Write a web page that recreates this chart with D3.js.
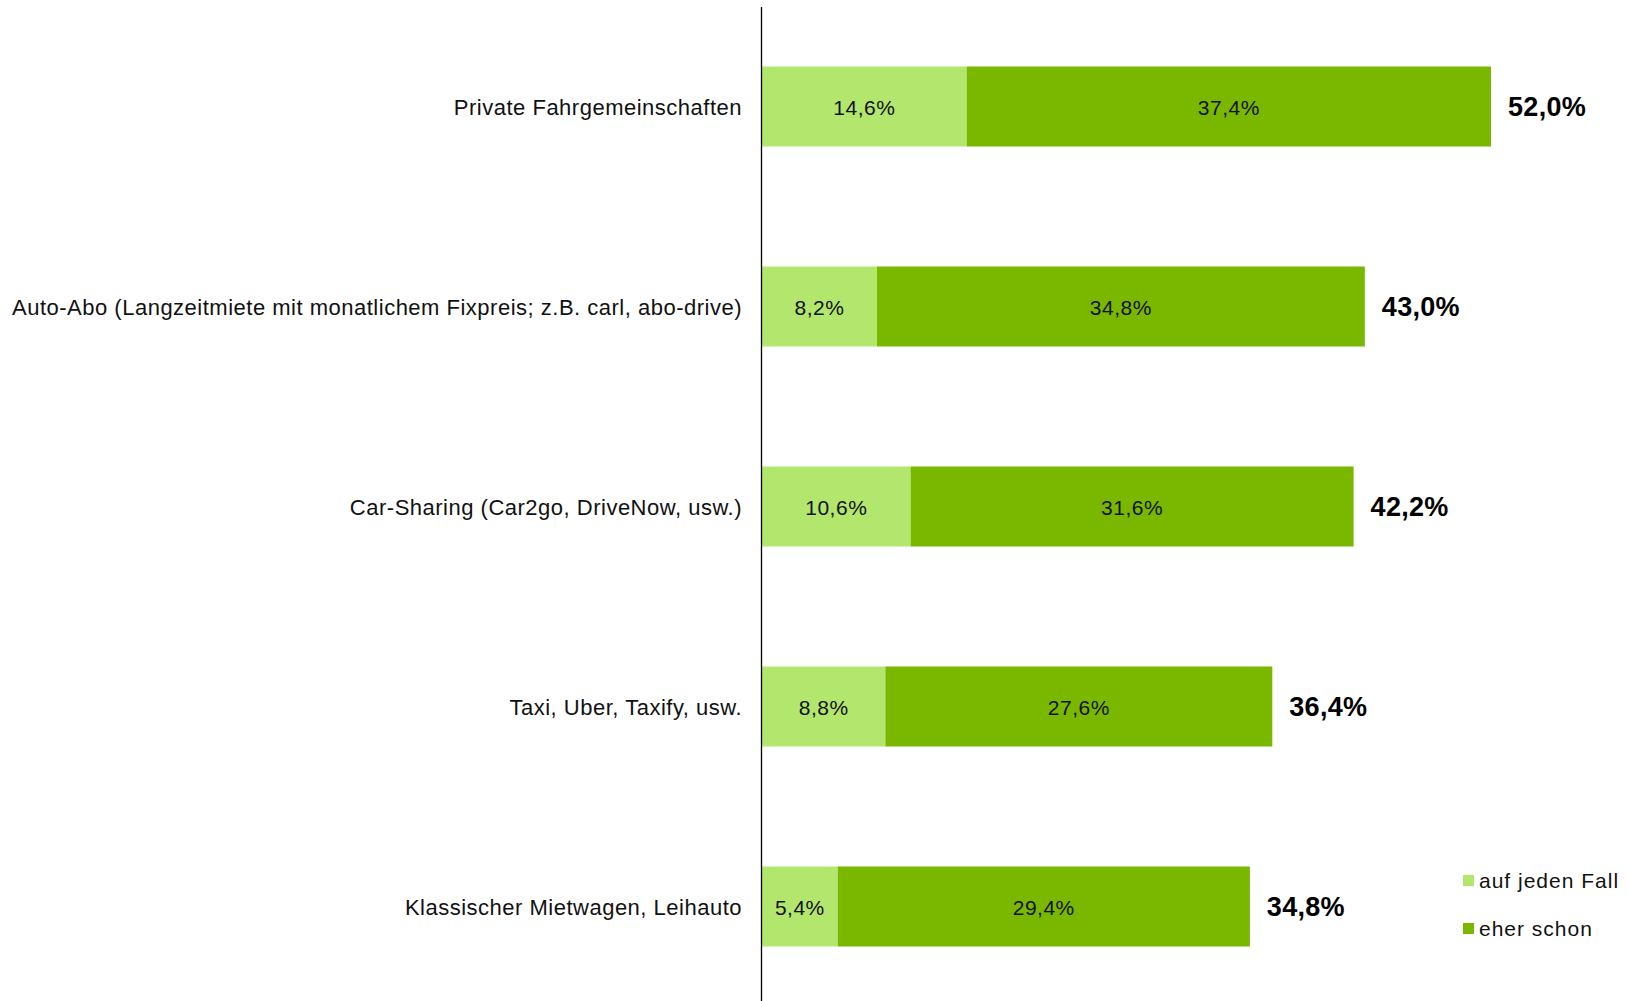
<!DOCTYPE html>
<html>
<head>
<meta charset="utf-8">
<script src="https://cdn.jsdelivr.net/npm/d3@7"></script>
<style>
  html, body { margin: 0; padding: 0; background: #fff; }
  svg { display: block; font-family: "Liberation Sans", Arial, sans-serif; }
</style>
</head>
<body>
<div id="graph"></div>
<script>
// chart data
const categories = [
    "Private Fahrgemeinschaften",
    "Auto-Abo (Langzeitmiete mit monatlichem Fixpreis; z.B. carl, abo-drive)",
    "Car-Sharing (Car2go, DriveNow, usw.)",
    "Taxi, Uber, Taxify, usw.",
    "Klassischer Mietwagen, Leihauto"
];
const aufJedenFall = [14.6, 8.2, 10.6, 8.8, 5.4];
const eherSchon = [37.4, 34.8, 31.6, 27.6, 29.4];
const totals = [52.0, 43.0, 42.2, 36.4, 34.8];
const seriesNames = ["auf jeden Fall", "eher schon"];
const colors = ["#b3e66c", "#7ab800"];

const width = 1629, height = 1001;
const x0 = 762;

const fmt = v => d3.format(".1f")(v).replace(".", ",") + "%";

const svg = d3.select("#graph").append("svg")
    .attr("width", width)
    .attr("height", height);

const x = d3.scaleLinear().domain([0, 52]).range([x0, x0 + 729]);
const y = d3.scaleBand().domain(categories).range([6.5, 1006.5])
    .paddingInner(0.6).paddingOuter(0.3);

const rows = categories.map((c, i) => ({
    cat: c, a: aufJedenFall[i], b: eherSchon[i], t: totals[i]
}));

const g = svg.selectAll(".row").data(rows).enter().append("g").attr("class", "row");

// light part
g.append("rect")
    .attr("x", x(0))
    .attr("y", d => y(d.cat))
    .attr("width", d => x(d.a) - x(0))
    .attr("height", y.bandwidth())
    .attr("fill", colors[0]);

// dark part
g.append("rect")
    .attr("x", d => x(d.a))
    .attr("y", d => y(d.cat))
    .attr("width", d => x(d.a + d.b) - x(d.a))
    .attr("height", y.bandwidth())
    .attr("fill", colors[1]);

const mid = d => y(d.cat) + y.bandwidth() / 2 + 8;

g.append("text")
    .attr("x", d => (x(0) + x(d.a)) / 2)
    .attr("y", mid)
    .attr("text-anchor", "middle")
    .style("font-size", "21px")
    .style("letter-spacing", "0.5px")
    .attr("fill", "#111")
    .text(d => fmt(d.a));

g.append("text")
    .attr("x", d => (x(d.a) + x(d.a + d.b)) / 2)
    .attr("y", mid)
    .attr("text-anchor", "middle")
    .style("font-size", "21px")
    .style("letter-spacing", "0.5px")
    .attr("fill", "#111")
    .text(d => fmt(d.b));

// totals
g.append("text")
    .attr("x", d => x(d.t) + 17)
    .attr("y", d => y(d.cat) + y.bandwidth() / 2 + 9.5)
    .style("font-size", "27px")
    .style("font-weight", "bold")
    .style("letter-spacing", "0.3px")
    .attr("fill", "#000")
    .text(d => fmt(d.t));

// category labels
g.append("text")
    .attr("x", x0 - 20)
    .attr("y", mid)
    .attr("text-anchor", "end")
    .style("font-size", "22px")
    .style("letter-spacing", "0.5px")
    .attr("fill", "#111")
    .text(d => d.cat);

// vertical axis line
svg.append("line")
    .attr("x1", x0 - 0.5).attr("x2", x0 - 0.5)
    .attr("y1", 7).attr("y2", height)
    .attr("stroke", "#000")
    .attr("stroke-width", 1.3);

// legend
const legend = svg.selectAll(".legend").data(seriesNames).enter().append("g")
    .attr("class", "legend")
    .attr("transform", (d, i) => `translate(1463, ${875 + i * 48})`);

legend.append("rect")
    .attr("width", 11).attr("height", 11)
    .attr("fill", (d, i) => colors[i]);

legend.append("text")
    .attr("x", 16)
    .attr("y", 13)
    .style("font-size", "21px")
    .style("letter-spacing", "1px")
    .attr("fill", "#111")
    .text(d => d);
</script>
</body>
</html>
